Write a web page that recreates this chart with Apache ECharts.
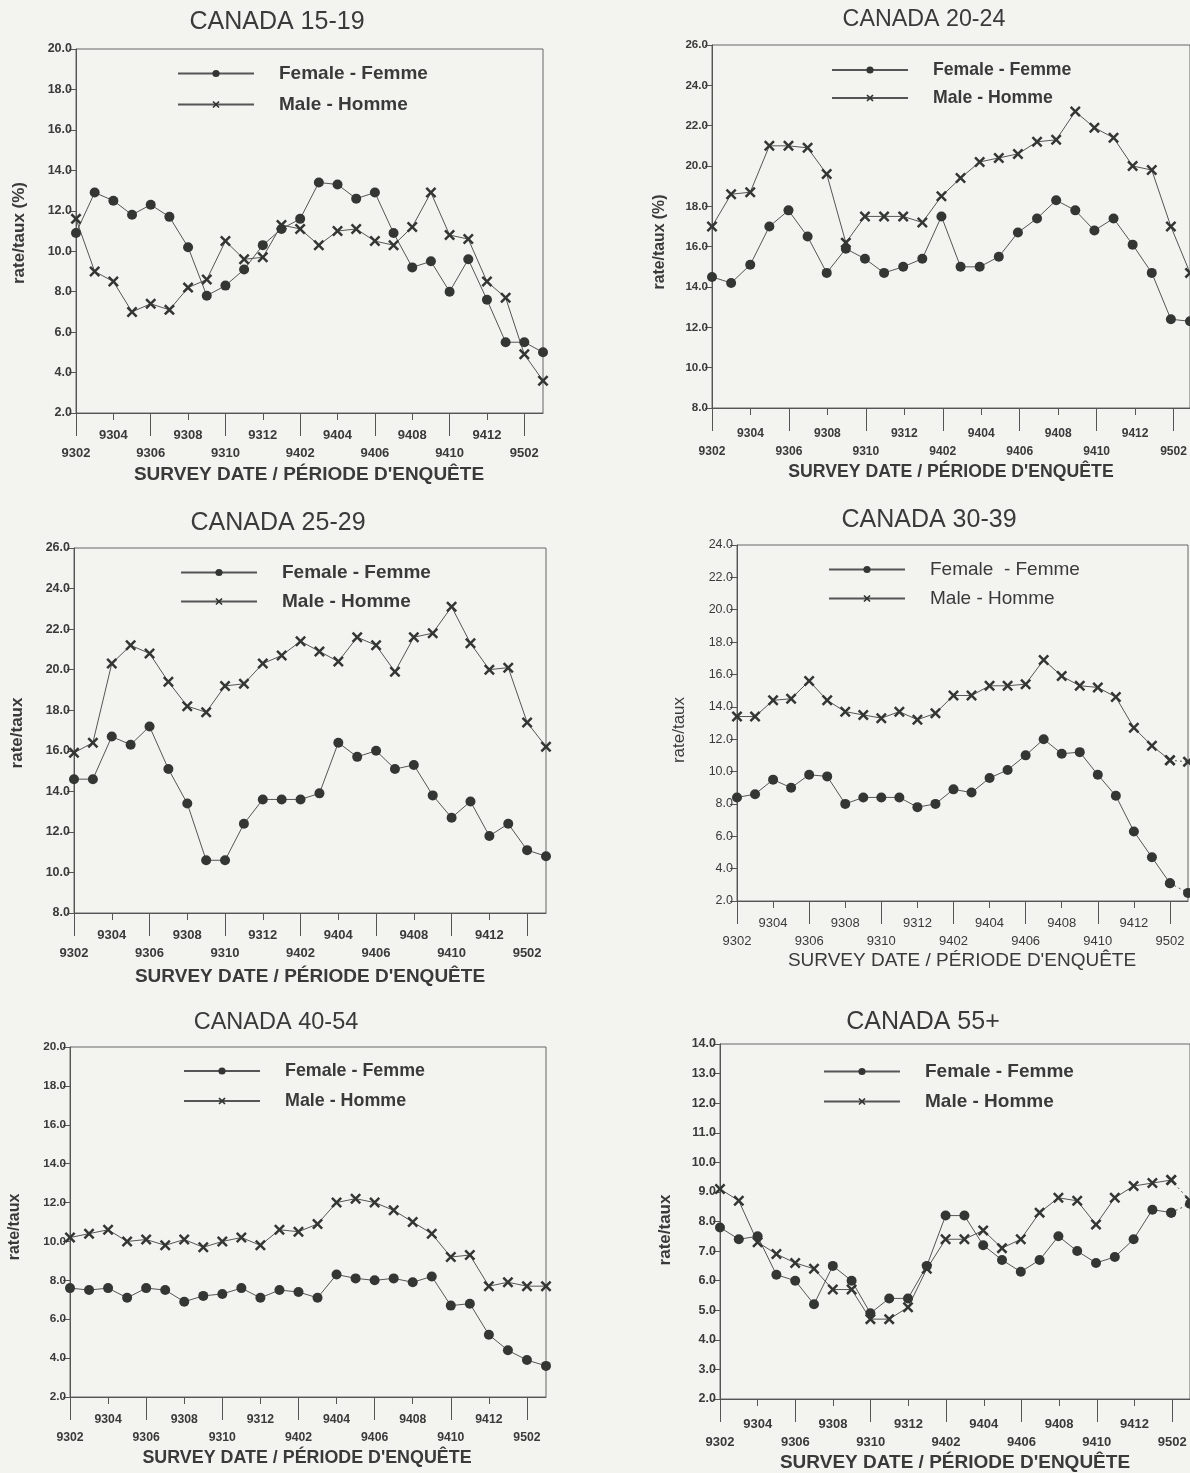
<!DOCTYPE html>
<html>
<head>
<meta charset="utf-8">
<title>Canada – rate/taux by age group</title>
<script src="https://cdn.jsdelivr.net/npm/echarts@6/dist/echarts.min.js"></script>
<style>
  html, body { margin: 0; padding: 0; background: #f3f4f0; }
  #chart { width: 1190px; height: 1473px; }
</style>
</head>
<body>
<div id="chart"></div>
<script>
// Survey months 1993-02 .. 1995-03 (YYMM)
const months = ['9302','9303','9304','9305','9306','9307','9308','9309','9310','9311','9312',
  '9401','9402','9403','9404','9405','9406','9407','9408','9409','9410','9411','9412',
  '9501','9502','9503'];

const female15_19 = [10.9, 12.9, 12.5, 11.8, 12.3, 11.7, 10.2, 7.8, 8.3, 9.1, 10.3, 11.1, 11.6, 13.4, 13.3, 12.6, 12.9, 10.9, 9.2, 9.5, 8.0, 9.6, 7.6, 5.5, 5.5, 5.0];
const male15_19   = [11.6, 9.0, 8.5, 7.0, 7.4, 7.1, 8.2, 8.6, 10.5, 9.6, 9.7, 11.3, 11.1, 10.3, 11.0, 11.1, 10.5, 10.3, 11.2, 12.9, 10.8, 10.6, 8.5, 7.7, 4.9, 3.6];

const female20_24 = [14.5, 14.2, 15.1, 17.0, 17.8, 16.5, 14.7, 15.9, 15.4, 14.7, 15.0, 15.4, 17.5, 15.0, 15.0, 15.5, 16.7, 17.4, 18.3, 17.8, 16.8, 17.4, 16.1, 14.7, 12.4, 12.3];
const male20_24   = [17.0, 18.6, 18.7, 21.0, 21.0, 20.9, 19.6, 16.2, 17.5, 17.5, 17.5, 17.2, 18.5, 19.4, 20.2, 20.4, 20.6, 21.2, 21.3, 22.7, 21.9, 21.4, 20.0, 19.8, 17.0, 14.7];

const female25_29 = [14.6, 14.6, 16.7, 16.3, 17.2, 15.1, 13.4, 10.6, 10.6, 12.4, 13.6, 13.6, 13.6, 13.9, 16.4, 15.7, 16.0, 15.1, 15.3, 13.8, 12.7, 13.5, 11.8, 12.4, 11.1, 10.8];
const male25_29   = [15.9, 16.4, 20.3, 21.2, 20.8, 19.4, 18.2, 17.9, 19.2, 19.3, 20.3, 20.7, 21.4, 20.9, 20.4, 21.6, 21.2, 19.9, 21.6, 21.8, 23.1, 21.3, 20.0, 20.1, 17.4, 16.2];

const female30_39 = [8.4, 8.6, 9.5, 9.0, 9.8, 9.7, 8.0, 8.4, 8.4, 8.4, 7.8, 8.0, 8.9, 8.7, 9.6, 10.1, 11.0, 12.0, 11.1, 11.2, 9.8, 8.5, 6.3, 4.7, 3.1, 2.5];
const male30_39   = [13.4, 13.4, 14.4, 14.5, 15.6, 14.4, 13.7, 13.5, 13.3, 13.7, 13.2, 13.6, 14.7, 14.7, 15.3, 15.3, 15.4, 16.9, 15.9, 15.3, 15.2, 14.6, 12.7, 11.6, 10.7, 10.6];

const female40_54 = [7.6, 7.5, 7.6, 7.1, 7.6, 7.5, 6.9, 7.2, 7.3, 7.6, 7.1, 7.5, 7.4, 7.1, 8.3, 8.1, 8.0, 8.1, 7.9, 8.2, 6.7, 6.8, 5.2, 4.4, 3.9, 3.6];
const male40_54   = [10.2, 10.4, 10.6, 10.0, 10.1, 9.8, 10.1, 9.7, 10.0, 10.2, 9.8, 10.6, 10.5, 10.9, 12.0, 12.2, 12.0, 11.6, 11.0, 10.4, 9.2, 9.3, 7.7, 7.9, 7.7, 7.7];

const female55plus = [7.8, 7.4, 7.5, 6.2, 6.0, 5.2, 6.5, 6.0, 4.9, 5.4, 5.4, 6.5, 8.2, 8.2, 7.2, 6.7, 6.3, 6.7, 7.5, 7.0, 6.6, 6.8, 7.4, 8.4, 8.3, 8.6];
const male55plus   = [9.1, 8.7, 7.3, 6.9, 6.6, 6.4, 5.7, 5.7, 4.7, 4.7, 5.1, 6.4, 7.4, 7.4, 7.7, 7.1, 7.4, 8.3, 8.8, 8.7, 7.9, 8.8, 9.2, 9.3, 9.4, 8.7];

const titles = ['CANADA 15-19', 'CANADA 20-24', 'CANADA 25-29', 'CANADA 30-39', 'CANADA 40-54', 'CANADA 55+'];
const yNames = ['rate/taux (%)', 'rate/taux (%)', 'rate/taux', 'rate/taux', 'rate/taux', 'rate/taux'];
const xName = 'SURVEY DATE / PÉRIODE D\'ENQUÊTE';
const femaleNames = ['Female - Femme', 'Female - Femme', 'Female - Femme', 'Female  - Femme', 'Female - Femme', 'Female - Femme'];
const maleName = 'Male - Homme';
const yMin = [2, 8, 8, 2, 2, 2];
const yMax = [20, 26, 26, 24, 20, 14];
const yStep = [2, 2, 2, 2, 2, 1];

const femaleSeries = [female15_19, female20_24, female25_29, female30_39, female40_54, female55plus];
const maleSeries = [male15_19, male20_24, male25_29, male30_39, male40_54, male55plus];

// Layout of each panel: plotting box, text anchors, label margins (upper / lower month row)
const panels = [
  { l: 76,  t: 49,   r: 543,  b: 413,  title: [277, 22],   yName: [19, 233],   xName: [309, 475],  leg: [177, 74, 32],   m: [16, 34], s: 1.0,  bold: true,  dotted: false },
  { l: 712, t: 45,   r: 1195, b: 408,  title: [924, 20],   yName: [660, 242],  xName: [951, 472],  leg: [831, 71, 30],   m: [20, 38], s: 0.93, bold: true,  dotted: false },
  { l: 74,  t: 548,  r: 546,  b: 913,  title: [278, 523],  yName: [17, 733],   xName: [310, 977],  leg: [180, 573, 30],  m: [16, 34], s: 1.0,  bold: true,  dotted: false },
  { l: 737, t: 545,  r: 1188, b: 901,  title: [929, 520],  yName: [679, 730],  xName: [962, 961],  leg: [828, 570, 30],  m: [16, 34], s: 1.0,  bold: false, dotted: true },
  { l: 70,  t: 1047, r: 546,  b: 1397, title: [276, 1023], yName: [15, 1227],  xName: [307, 1458], leg: [183, 1072, 32], m: [17, 35], s: 0.94, bold: true,  dotted: false },
  { l: 720, t: 1044, r: 1191, b: 1399, title: [923, 1022], yName: [665, 1230], xName: [955, 1463], leg: [823, 1072, 31], m: [19, 37], s: 1.0,  bold: true,  dotted: true }
];

const FONT = '"Liberation Sans", Arial, Helvetica, sans-serif';
const INK = '#3a3a3a';
const LINE = '#555555';
const MARK = '#333633';
const CROSS = 'path://M0,1.6 L1.6,0 L5,3.4 L8.4,0 L10,1.6 L6.6,5 L10,8.4 L8.4,10 L5,6.6 L1.6,10 L0,8.4 L3.4,5 Z';

const upperRow = (idx) => idx % 4 === 2;   // 9304, 9308, ...
const lowerRow = (idx) => idx % 4 === 0;   // 9302, 9306, ...
// the tick/label scale stops at the last labelled month (9502)
const labelledMonths = months.slice(0, months.length - 1);

const grid = [], xAxis = [], yAxis = [], series = [], legend = [], graphic = [];

panels.forEach((p, i) => {
  const w = p.bold ? 'bold' : 'normal';
  const s = p.s;
  const width = p.r - p.l;
  // plotting grid
  grid.push({
    left: p.l, top: p.t, width: width, height: p.b - p.t,
    show: true, borderColor: '#666', borderWidth: 1, backgroundColor: 'transparent'
  });
  // tick grid: same origin, ends on the 9502 position
  grid.push({
    left: p.l, top: p.t, width: width * (labelledMonths.length - 1) / (months.length - 1), height: p.b - p.t,
    show: false
  });

  const labelBase = { color: INK, fontFamily: FONT, fontWeight: w, fontSize: 13 * s };
  // main month axis: line only
  xAxis.push({
    gridIndex: 2 * i, type: 'category', position: 'bottom', data: months, boundaryGap: false,
    axisLine: { show: true, lineStyle: { color: LINE, width: 1 } },
    axisTick: { show: false }, axisLabel: { show: false }, splitLine: { show: false }
  });
  // upper row of month labels with short ticks
  xAxis.push({
    gridIndex: 2 * i + 1, type: 'category', position: 'bottom', data: labelledMonths, boundaryGap: false,
    axisLine: { show: false },
    axisTick: { show: true, length: 7, interval: upperRow, lineStyle: { color: LINE } },
    axisLabel: Object.assign({ interval: 0, margin: p.m[0], formatter: (v, idx) => (upperRow(idx) ? v : '') }, labelBase),
    splitLine: { show: false }
  });
  // lower row of month labels with long ticks
  xAxis.push({
    gridIndex: 2 * i + 1, type: 'category', position: 'bottom', data: labelledMonths, boundaryGap: false,
    axisLine: { show: false },
    axisTick: { show: true, length: 23, interval: lowerRow, lineStyle: { color: LINE } },
    axisLabel: Object.assign({ interval: 0, margin: p.m[1], formatter: (v, idx) => (lowerRow(idx) ? v : '') }, labelBase),
    splitLine: { show: false }
  });
  yAxis.push({
    gridIndex: 2 * i, type: 'value', min: yMin[i], max: yMax[i], interval: yStep[i],
    axisLine: { show: true, lineStyle: { color: LINE, width: 1 } },
    axisTick: { show: true, length: 7, inside: false, lineStyle: { color: LINE } },
    axisLabel: Object.assign({ margin: 4, formatter: (v) => v.toFixed(1) }, labelBase, { fontSize: 12.5 * s }),
    splitLine: { show: false }
  });
  yAxis.push({
    gridIndex: 2 * i + 1, type: 'value', min: yMin[i], max: yMax[i], show: false
  });

  const cut = p.dotted ? months.length - 2 : months.length - 1;
  const mk = (name, vals, symbol, size) => {
    const base = {
      type: 'line', xAxisIndex: 3 * i, yAxisIndex: 2 * i, symbol: symbol, symbolSize: size,
      showAllSymbol: true, itemStyle: { color: MARK }, lineStyle: { color: LINE, width: 1 },
      emphasis: { disabled: true }, animation: false
    };
    series.push(Object.assign({}, base, { name: name, data: vals.map((v, k) => (k <= cut ? v : null)) }));
    if (p.dotted) {
      // last month drawn with a dotted connector
      series.push(Object.assign({}, base, {
        name: name + ' ', data: vals.map((v, k) => (k >= cut ? v : null)),
        lineStyle: { color: LINE, width: 1, type: [2, 3] }
      }));
    }
  };
  mk(femaleNames[i], femaleSeries[i], 'circle', 10);
  mk(maleName, maleSeries[i], CROSS, 11);

  legend.push({
    data: [femaleNames[i], maleName], orient: 'vertical', left: p.leg[0], top: p.leg[1] - 10,
    itemWidth: 76, itemHeight: 9, itemGap: p.leg[2] - 20, padding: 0, selectedMode: false,
    formatter: (name) => '{t|' + name + '}',
    textStyle: { rich: { t: { padding: [0, 0, 0, 20], lineHeight: 20, fontSize: 19 * s, fontWeight: w, fontFamily: FONT, color: INK } } }
  });

  graphic.push({
    type: 'text', x: p.title[0], y: p.title[1], silent: true,
    style: { text: titles[i], fontSize: 25 * s, fontFamily: FONT, fill: INK, align: 'center', verticalAlign: 'middle', textAlign: 'center', textVerticalAlign: 'middle' }
  });
  graphic.push({
    type: 'text', x: p.xName[0], y: p.xName[1], silent: true,
    style: { text: xName, fontSize: 19 * s, fontWeight: w, fontFamily: FONT, fill: INK, align: 'center', verticalAlign: 'middle', textAlign: 'center', textVerticalAlign: 'middle' }
  });
  graphic.push({
    type: 'text', x: p.yName[0], y: p.yName[1], rotation: Math.PI / 2, silent: true,
    style: { text: yNames[i], fontSize: 17 * s, fontWeight: w, fontFamily: FONT, fill: INK, align: 'center', verticalAlign: 'middle', textAlign: 'center', textVerticalAlign: 'middle' }
  });
});

const chart = echarts.init(document.getElementById('chart'), null, { renderer: 'canvas' });
chart.setOption({
  backgroundColor: '#f3f4f0',
  animation: false,
  grid, xAxis, yAxis, series, legend, graphic
});
</script>
</body>
</html>
